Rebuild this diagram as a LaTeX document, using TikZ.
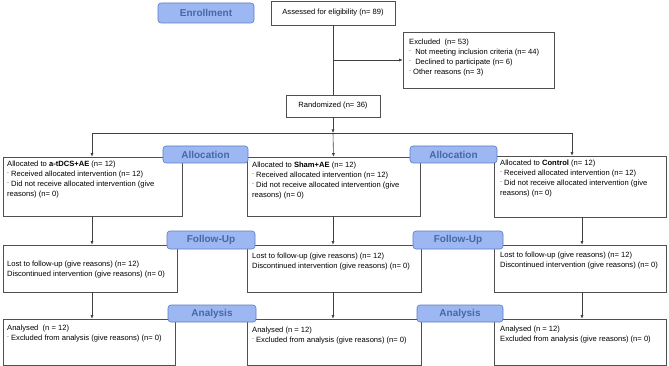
\documentclass[tikz,border=0pt]{standalone}
\usepackage{fontspec}
\setmainfont{Liberation Sans}
\usetikzlibrary{arrows.meta}
\definecolor{labfill}{HTML}{9DB7F2}
\definecolor{labdraw}{HTML}{5B7DC2}
\definecolor{labtext}{HTML}{4469A6}
\definecolor{boxdraw}{HTML}{505050}
\definecolor{linecol}{HTML}{404040}
\newcommand\dsh{\raisebox{0.55ex}{\fontsize{5.5}{5.5}\selectfont\color{darkgray}-}}
\newcommand\bx[5]{\node[box,minimum width={#4pt-#2pt},minimum height={#5pt-#3pt}] (#1) at ({(#2+#4)/2},{(#3+#5)/2}) {};}
\newcommand\lab[6]{\node[labbox,minimum width={#4pt-#2pt},minimum height={#5pt-#3pt}] (#1) at ({(#2+#4)/2},{(#3+#5)/2}) {#6};}
\begin{document}
\begin{tikzpicture}[x=1pt,y=-1pt,
  box/.style={draw=boxdraw,line width=0.6pt,fill=white,inner sep=0pt},
  labbox/.style={draw=labdraw,line width=0.6pt,fill=labfill,rounded corners=3pt,inner sep=0pt,
    text=labtext,font=\fontsize{10}{12}\selectfont\bfseries},
  txt/.style={inner sep=0pt,anchor=north west,align=left,font=\fontsize{7.6}{10}\selectfont},
  ctxt/.style={inner sep=0pt,font=\fontsize{7.6}{10}\selectfont},
  conn/.style={draw=linecol,line width=0.6pt},
  arr/.style={conn,-{Latex[length=3.5pt,width=3pt]}}]
\useasboundingbox (0,0) rectangle (669,366);
% boxes
\bx{assess}{271}{1}{395}{25}
\bx{excl}{403}{32}{554}{88}
\bx{rand}{286}{95}{380}{117}
\bx{allocA}{3}{157}{182}{216}
\bx{allocB}{247}{157}{420}{216}
\bx{allocC}{494}{156}{666}{217}
\bx{lostA}{3}{245}{177}{292}
\bx{lostB}{247}{245}{421}{292}
\bx{lostC}{494}{245}{666}{292}
\bx{anA}{3}{319}{175}{365}
\bx{anB}{247}{319}{421}{365}
\bx{anC}{494}{319}{666}{365}
% texts
\node[ctxt] (tassess) at (assess) {Assessed for eligibility (n= 89)};
\node[ctxt] (trand) at (rand) {Randomized (n= 36)};
\node[txt] (texcl) at (409,39) {Excluded\ \ (n= 53)\\
  \dsh\ \ Not meeting inclusion criteria (n= 44)\\
  \dsh\ \ Declined to participate (n= 6)\\
  \dsh\ Other reasons (n= 3)};
\node[txt] (tallocA) at (7,161) {Allocated to \textbf{a-tDCS+AE} (n= 12)\\
  \dsh\ Received allocated intervention (n= 12)\\
  \dsh\ Did not receive allocated intervention (give\\
  reasons) (n= 0)};
\node[txt] (tallocB) at (252,162) {Allocated to \textbf{Sham+AE} (n= 12)\\
  \dsh\ Received allocated intervention (n= 12)\\
  \dsh\ Did not receive allocated intervention (give\\
  reasons) (n= 0)};
\node[txt] (tallocC) at (500,160) {Allocated to \textbf{Control} (n= 12)\\
  \dsh\ Received allocated intervention (n= 12)\\
  \dsh\ Did not receive allocated intervention (give\\
  reasons) (n= 0)};
\node[txt] (tlostA) at (7,261) {Lost to follow-up (give reasons) (n= 12)\\
  Discontinued intervention (give reasons) (n= 0)};
\node[txt] (tlostB) at (252,253) {Lost to follow-up (give reasons) (n= 12)\\
  Discontinued intervention (give reasons) (n= 0)};
\node[txt] (tlostC) at (500,252) {Lost to follow-up (give reasons) (n= 12)\\
  Discontinued intervention (give reasons) (n= 0)};
\node[txt] (tanA) at (7,325) {Analysed\ \ (n = 12)\\
  \dsh\ Excluded from analysis (give reasons) (n= 0)};
\node[txt] (tanB) at (252,327) {Analysed (n = 12)\\
  \dsh\ Excluded from analysis (give reasons) (n= 0)};
\node[txt] (tanC) at (500,326) {Analysed (n = 12)\\
  Excluded from analysis (give reasons) (n= 0)};
% connectors
\coordinate (split) at (333,133);
\coordinate (colA) at (92,133);
\coordinate (colC) at (572,133);
\coordinate (colC2) at (582,217);
\draw[conn] (assess.south) -- (rand.north);
\draw[arr] (assess.south |- excl.west) -- (excl.west);
\draw[arr] (rand.south) -- (split);
\draw[conn] (colA) -- (colC);
\draw[arr] (colA) -- (colA |- allocA.north);
\draw[arr] (split) -- (allocB.north);
\draw[arr] (colC) -- (colC |- allocC.north);
\draw[arr] (colA |- allocA.south) -- (colA |- lostA.north);
\draw[arr] (allocB.south -| split) -- (lostB.north -| split);
\draw[arr] (colC2) -- (colC2 |- lostC.north);
\draw[arr] (colA |- lostA.south) -- (colA |- anA.north);
\draw[arr] (lostB.south -| split) -- (anB.north -| split);
\draw[arr] (colC2 |- lostC.south) -- (colC2 |- anC.north);
% labels
\lab{enroll}{158}{3}{254}{23}{Enrollment}
\lab{allocL1}{163}{146}{248}{163}{Allocation}
\lab{allocL2}{410}{146}{497}{163}{Allocation}
\lab{follow1}{167}{231}{255}{249}{Follow-Up}
\lab{follow2}{413}{231}{503}{249}{Follow-Up}
\lab{anal1}{168}{305}{256}{322}{Analysis}
\lab{anal2}{417}{305}{503}{322}{Analysis}
\end{tikzpicture}
\end{document}
